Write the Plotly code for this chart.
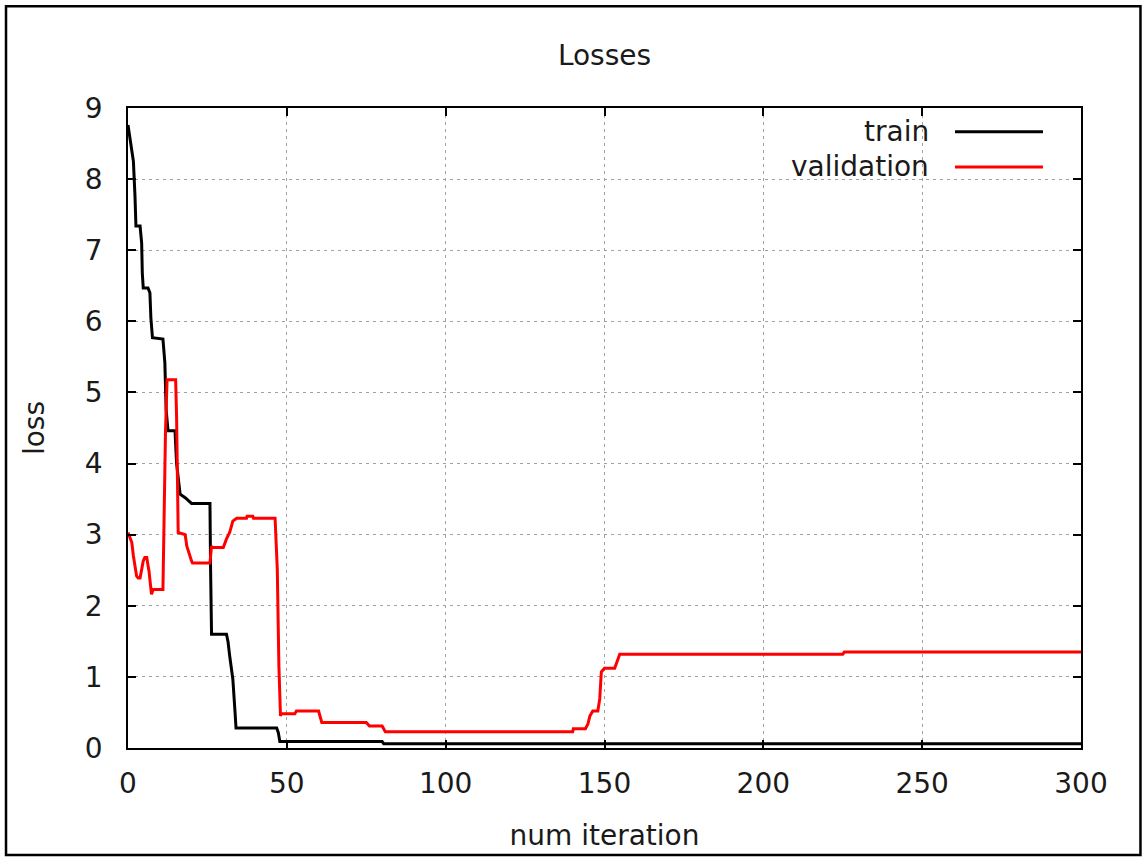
import plotly.graph_objects as go

# ---- data ----
train_x = [0, 0.5, 1, 1.7, 2.2, 2.5, 3.8, 4.3, 4.5, 4.8, 6.3, 6.9, 7.2, 7.7, 11, 11.6, 12,
           12.6, 14.8, 15.3, 16.4, 18, 20, 25.8, 26, 26.3, 31, 31.5, 32, 33, 33.7, 34,
           46.8, 47.3, 47.8, 80, 80.5, 300]
train_y = [8.76, 8.6, 8.41, 8.25, 7.76, 7.34, 7.34, 7.1, 6.68, 6.47, 6.47, 6.4, 6.05, 5.77,
           5.75, 5.42, 4.76, 4.46, 4.46, 4.0, 3.57, 3.52, 3.44, 3.44, 2.51, 1.6, 1.6, 1.49,
           1.3, 0.97, 0.5, 0.28, 0.28, 0.22, 0.09, 0.09, 0.06, 0.06]

val_x = [0, 1.2, 1.7, 2.7, 3.2, 3.8, 4.8, 5.3, 5.9, 6.6, 7.4, 7.9, 11, 11.2, 11.8, 12.3, 15,
         15.3, 15.8, 18, 18.5, 20, 20.3, 25.8, 26.3, 26.5, 30, 31, 32, 33, 34.2, 37.3, 37.5,
         39.3, 39.5, 46.3, 47, 47.5, 48, 48.2, 52.5, 53, 60, 60.5, 61, 75, 76, 80, 81, 140,
         140.2, 144, 144.8, 145.4, 146.3, 147.9, 148.5, 149, 150, 153.2, 153.8, 154.8, 225,
         225.5, 300]
val_y = [3.03, 2.89, 2.7, 2.42, 2.39, 2.39, 2.63, 2.68, 2.68, 2.49, 2.16, 2.23, 2.23, 2.94,
         4.44, 5.18, 5.18, 4.65, 3.03, 3.0, 2.84, 2.63, 2.6, 2.6, 2.84, 2.82, 2.82, 2.94, 3.03,
         3.19, 3.23, 3.23, 3.26, 3.26, 3.23, 3.23, 2.51, 1.16, 0.45, 0.48, 0.48, 0.52, 0.52,
         0.45, 0.36, 0.36, 0.31, 0.31, 0.23, 0.23, 0.27, 0.27, 0.34, 0.45, 0.52, 0.52, 0.69,
         1.07, 1.12, 1.12, 1.19, 1.32, 1.32, 1.35, 1.35]

series_names = ["train", "validation"]
series_colors = ["#000000", "#ff0000"]
x_ticks = [0, 50, 100, 150, 200, 250, 300]
y_ticks = [0, 1, 2, 3, 4, 5, 6, 7, 8, 9]

FONT = "DejaVu Sans"
FS = 28
TXT = "#1a1a1a"
LW = 3

fig = go.Figure()
for xs, ys, name, col in [(train_x, train_y, series_names[0], series_colors[0]),
                          (val_x, val_y, series_names[1], series_colors[1])]:
    fig.add_trace(go.Scatter(x=xs, y=ys, mode="lines", name=name,
                             line=dict(color=col, width=LW), showlegend=False))

axis_common = dict(
    showline=True, linecolor="#000000", linewidth=1.5, mirror="ticks",
    ticks="inside", ticklen=8, tickwidth=1.5, tickcolor="#000000",
    showgrid=True, gridcolor="#a0a0a0", gridwidth=1, griddash="3px,4px",
    zeroline=False, tickfont=dict(family=FONT, size=FS, color=TXT),
)

fig.update_xaxes(range=[0, 300], tickvals=x_ticks, ticktext=[str(v) for v in x_ticks],
                 ticklabelstandoff=10,
                 title=dict(text="num iteration", font=dict(family=FONT, size=FS, color=TXT),
                            standoff=26),
                 **axis_common)
fig.update_yaxes(range=[0, 9], tickvals=y_ticks, ticktext=[str(v) for v in y_ticks],
                 ticklabelstandoff=18,
                 title=dict(text="loss", font=dict(family=FONT, size=FS, color=TXT),
                            standoff=32),
                 **axis_common)

# opaque key box (hides grid behind the key), drawn between grid and traces
fig.add_shape(type="rect", xref="paper", yref="paper", x0=0.640, x1=0.9965,
              y0=0.876, y1=0.991, fillcolor="white", line=dict(width=0), layer="between")

# key entries: right-aligned text followed by line sample (gnuplot style)
key_y = [0.963, 0.908]
for name, col, ky in zip(series_names, series_colors, key_y):
    fig.add_annotation(xref="paper", yref="paper", x=0.8425, y=ky, text=name,
                       showarrow=False, xanchor="right", yanchor="middle",
                       font=dict(family=FONT, size=FS, color=TXT))
    fig.add_shape(type="line", xref="paper", yref="paper", x0=0.8678, x1=0.9601,
                  y0=ky, y1=ky, line=dict(color=col, width=LW), layer="above")

# outer frame of the picture
fig.add_shape(type="rect", xref="paper", yref="paper", x0=-0.128, x1=1.0624,
              y0=-0.167, y1=1.159, line=dict(color="#000000", width=2.5),
              fillcolor="rgba(0,0,0,0)", layer="above")

fig.update_layout(
    width=1143, height=859,
    margin=dict(l=128, r=62, t=108, b=111),
    paper_bgcolor="white", plot_bgcolor="white",
    title=dict(text="Losses", xref="paper", x=0.5, xanchor="center",
               y=1 - 55 / 859, yanchor="middle",
               font=dict(family=FONT, size=FS, color=TXT)),
    showlegend=False,
)

fig.write_html("out.html",
               config={"displayModeBar": False},
               post_script="document.body.style.margin='0px';"
                           "document.body.style.overflow='hidden';")
